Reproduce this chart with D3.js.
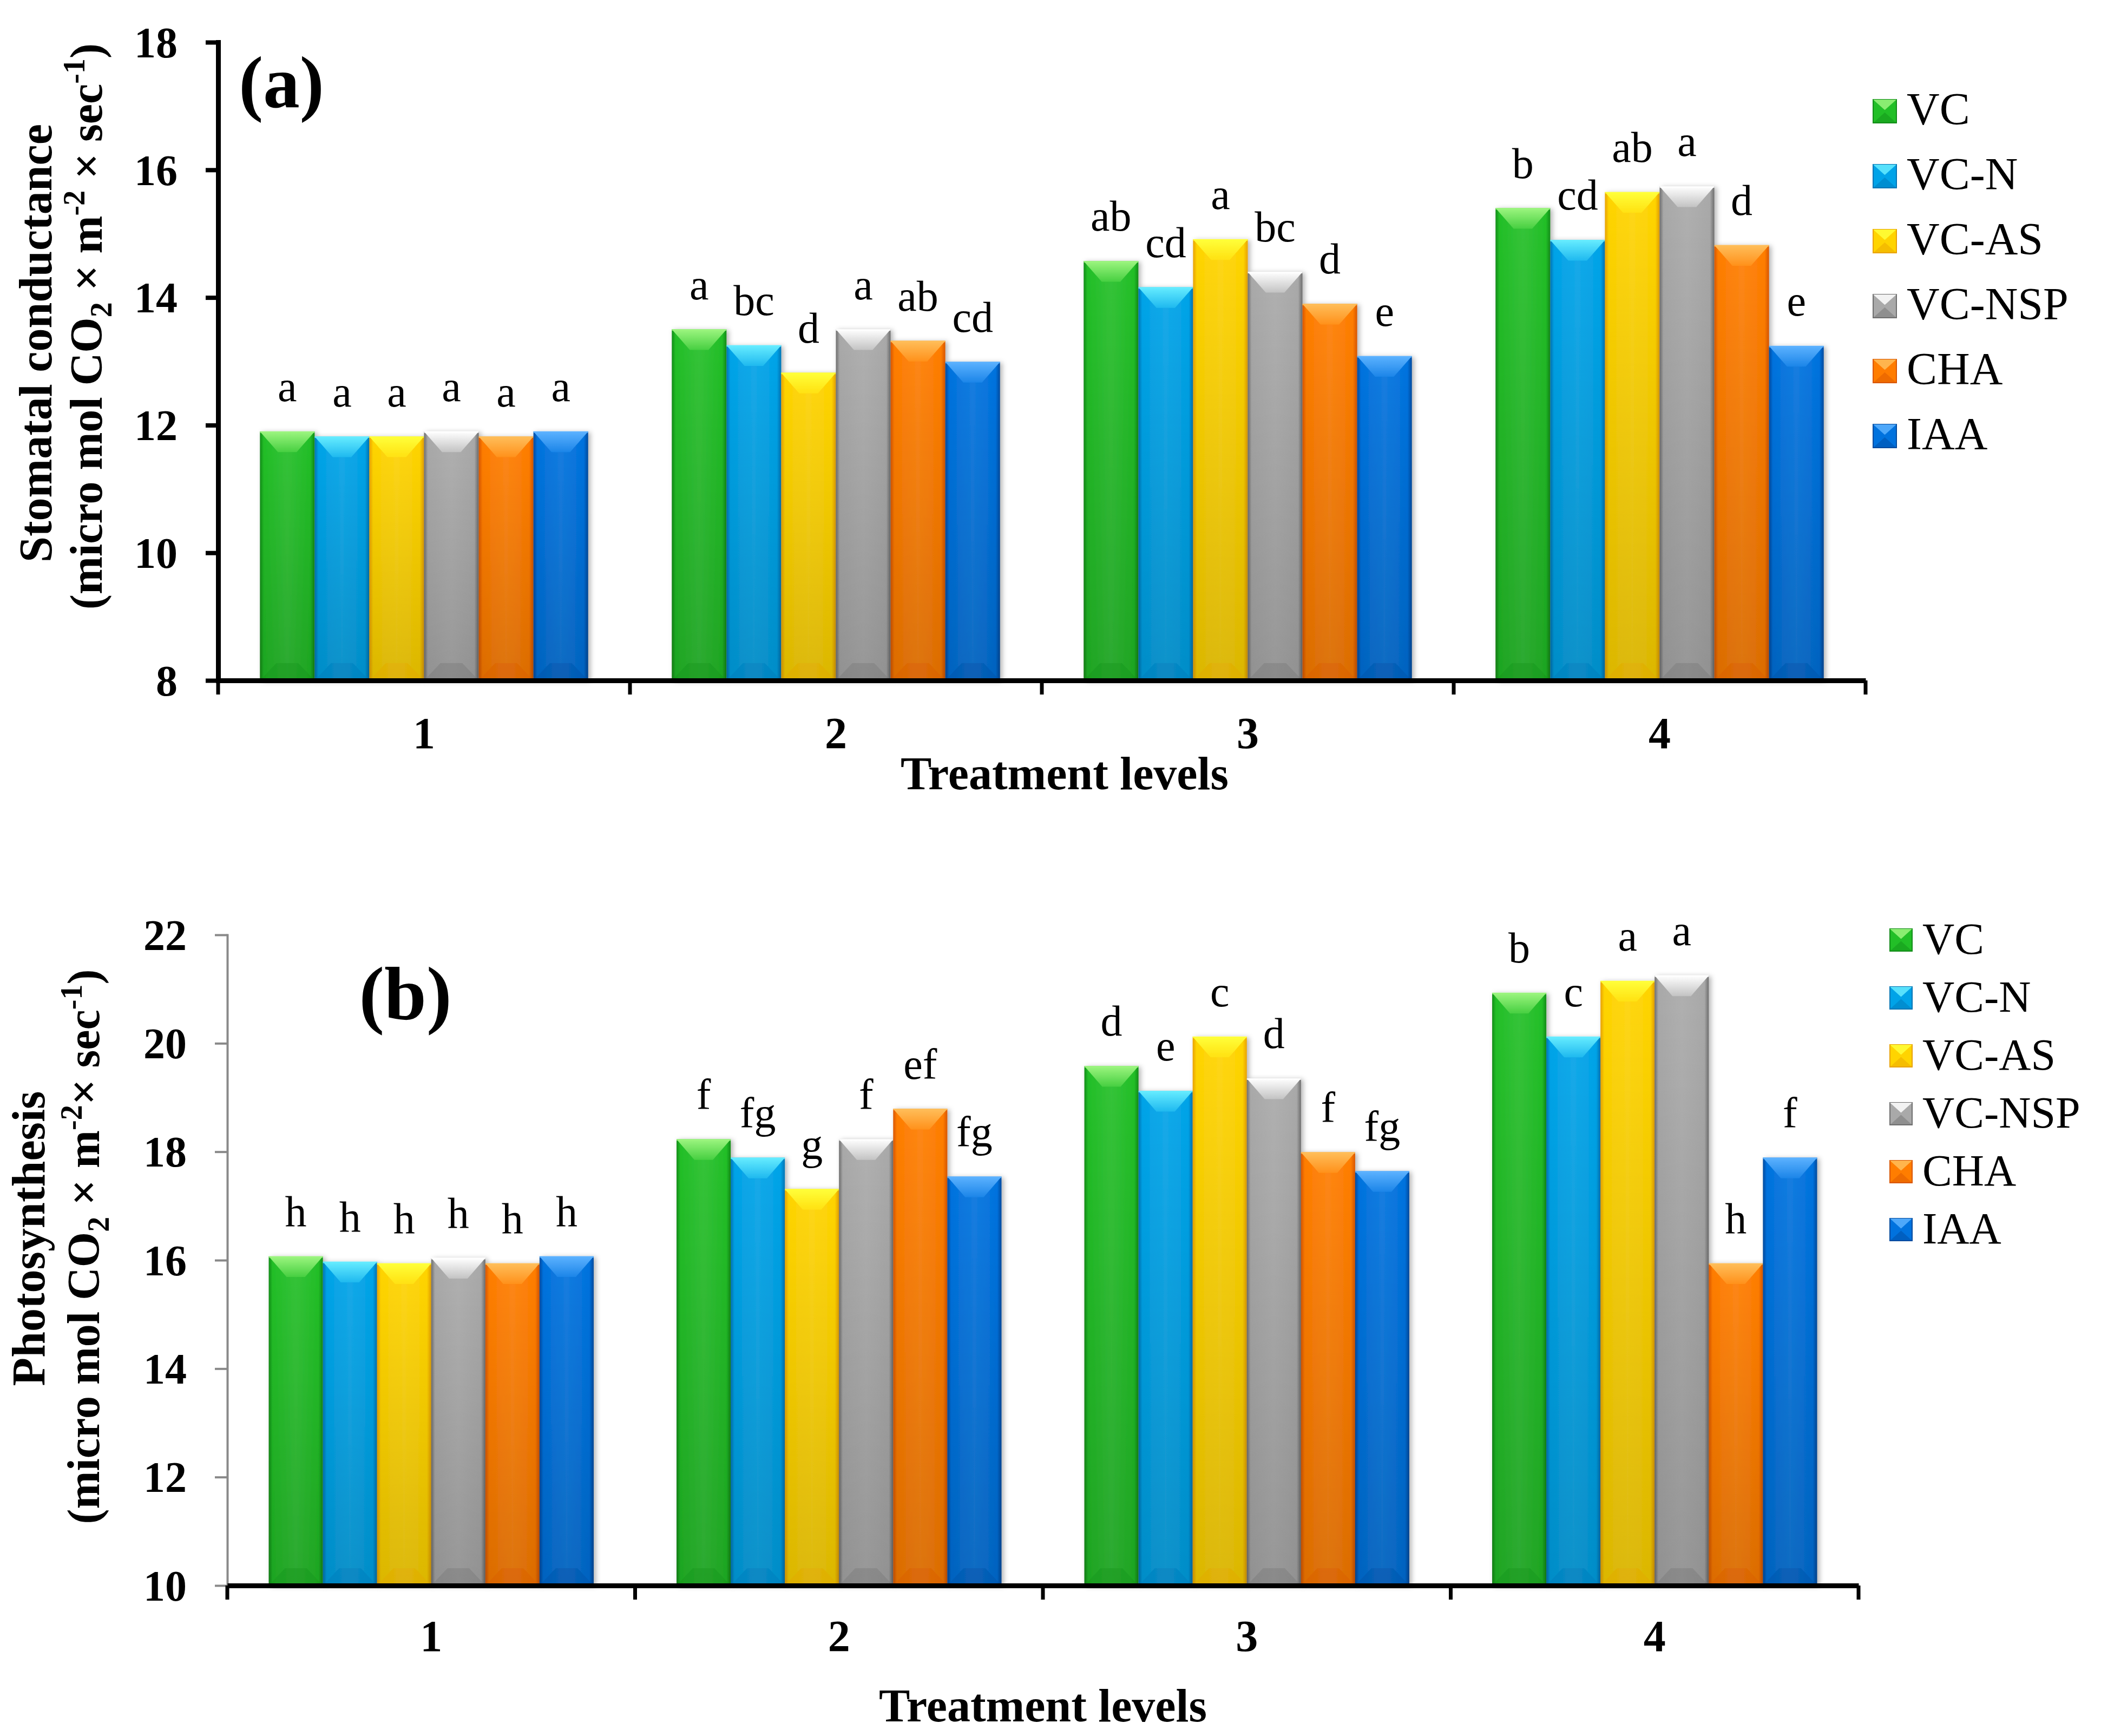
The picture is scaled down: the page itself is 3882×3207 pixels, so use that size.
<!DOCTYPE html>
<html><head><meta charset="utf-8">
<script src="https://cdn.jsdelivr.net/npm/d3@7"></script>
<style>html,body{margin:0;padding:0;background:#fff}svg{display:block}</style>
</head><body>
<svg id="chart" width="3882" height="3207"></svg>
<script>
// ---------- data ----------
const categories = ["1", "2", "3", "4"];
const seriesNames = ["VC", "VC-N", "VC-AS", "VC-NSP", "CHA", "IAA"];

// (a) Stomatal conductance
const stomatalVC    = [11.90, 13.50, 14.57, 15.40];
const stomatalVCN   = [11.82, 13.25, 14.16, 14.90];
const stomatalVCAS  = [11.82, 12.82, 14.91, 15.65];
const stomatalVCNSP = [11.90, 13.50, 14.40, 15.74];
const stomatalCHA   = [11.82, 13.32, 13.90, 14.82];
const stomatalIAA   = [11.90, 12.99, 13.08, 13.24];
const stomatalLettersVC    = ["a", "a", "ab", "b"];
const stomatalLettersVCN   = ["a", "bc", "cd", "cd"];
const stomatalLettersVCAS  = ["a", "d", "a", "ab"];
const stomatalLettersVCNSP = ["a", "a", "bc", "a"];
const stomatalLettersCHA   = ["a", "ab", "d", "d"];
const stomatalLettersIAA   = ["a", "cd", "e", "e"];
const stomatalTicks = [8, 10, 12, 14, 16, 18];

// (b) Photosynthesis
const photoVC    = [16.07, 18.23, 19.58, 20.93];
const photoVCN   = [15.97, 17.89, 19.12, 20.12];
const photoVCAS  = [15.94, 17.31, 20.12, 21.15];
const photoVCNSP = [16.04, 18.23, 19.35, 21.25];
const photoCHA   = [15.94, 18.79, 17.99, 15.94];
const photoIAA   = [16.07, 17.54, 17.64, 17.89];
const photoLettersVC    = ["h", "f", "d", "b"];
const photoLettersVCN   = ["h", "fg", "e", "c"];
const photoLettersVCAS  = ["h", "g", "c", "a"];
const photoLettersVCNSP = ["h", "f", "d", "a"];
const photoLettersCHA   = ["h", "ef", "f", "h"];
const photoLettersIAA   = ["h", "fg", "fg", "f"];
const photoTicks = [10, 12, 14, 16, 18, 20, 22];

// ---------- styles ----------
const baseColors  = ["#22bf27", "#00a3e8", "#ffd400", "#a9a9a9", "#ff7d00", "#0072de"];
const darkColors  = ["#128d18", "#0075b5", "#e9a200", "#6e6e6e", "#d95600", "#004a9e"];
const lightColors = ["#9cf57f", "#66ecff", "#ffff3a", "#ffffff", "#ffbe5a", "#5cb2ff"];
const FONT = "'Liberation Serif','Times New Roman',Times,serif";

const svg = d3.select("#chart");
svg.append("rect").attr("width", 3882).attr("height", 3207).attr("fill", "#fff");
const defs = svg.append("defs");
const flt = defs.append("filter").attr("id", "shadow")
  .attr("x", "-30%").attr("y", "-10%").attr("width", "160%").attr("height", "120%");
flt.append("feDropShadow").attr("dx", 4).attr("dy", 2).attr("stdDeviation", 5)
  .attr("flood-color", "#000").attr("flood-opacity", 0.3);

baseColors.forEach((c, i) => {
  const body = defs.append("linearGradient").attr("id", "body" + i)
    .attr("x1", 0).attr("x2", 1).attr("y1", 0).attr("y2", 0);
  [[0, darkColors[i]], [0.07, c], [0.5, d3.interpolateRgb(c, "#fff")(0.08)], [0.92, c], [1, darkColors[i]]]
    .forEach(([o, col]) => body.append("stop").attr("offset", o).attr("stop-color", col));
  const top = defs.append("linearGradient").attr("id", "top" + i)
    .attr("x1", 0).attr("x2", 0).attr("y1", 0).attr("y2", 1);
  top.append("stop").attr("offset", 0).attr("stop-color", lightColors[i]);
  top.append("stop").attr("offset", 1).attr("stop-color", d3.interpolateRgb(lightColors[i], c)(0.7));
});
const shade = defs.append("linearGradient").attr("id", "shade")
  .attr("x1", 0).attr("x2", 0).attr("y1", 0).attr("y2", 1);
shade.append("stop").attr("offset", 0).attr("stop-color", "#000").attr("stop-opacity", 0);
shade.append("stop").attr("offset", 1).attr("stop-color", "#000").attr("stop-opacity", 0.14);

function drawPanel(p) {
  const x0 = d3.scaleBand().domain(categories).range(p.xRange).padding(0);
  const x1 = d3.scaleBand().domain(seriesNames).range([0, x0.bandwidth()])
    .paddingInner(0).paddingOuter(0.765);
  const y = d3.scaleLinear().domain(p.yDomain).range(p.yRange);
  const g = svg.append("g");
  const base = y(p.yDomain[0]);

  // bars
  seriesNames.forEach((s, si) => {
    p.values[si].forEach((v, ci) => {
      const bx = x0(categories[ci]) + x1(s), bw = x1.bandwidth();
      const by = y(v), bh = base - by;
      const bar = g.append("g").attr("filter", "url(#shadow)");
      bar.append("rect").attr("x", bx).attr("y", by).attr("width", bw).attr("height", bh)
        .attr("fill", `url(#body${si})`);
      bar.append("rect").attr("x", bx).attr("y", by).attr("width", bw).attr("height", bh)
        .attr("fill", "url(#shade)");
      const bev = Math.min(38, bh / 2);
      bar.append("polygon")
        .attr("points", [[bx, by], [bx + bw, by], [bx + bw * 0.67, by + bev], [bx + bw * 0.33, by + bev]].join(" "))
        .attr("fill", `url(#top${si})`);
      bar.append("line").attr("x1", bx).attr("x2", bx + bw).attr("y1", by + 1).attr("y2", by + 1)
        .attr("stroke", lightColors[si]).attr("stroke-width", 3).attr("opacity", 0.8);
      bar.append("polygon")
        .attr("points", [[bx, base], [bx + bw, base], [bx + bw * 0.7, base - 32], [bx + bw * 0.3, base - 32]].join(" "))
        .attr("fill", darkColors[si]).attr("opacity", 0.3);
    });
  });
  // letters
  seriesNames.forEach((s, si) => {
    p.values[si].forEach((v, ci) => {
      g.append("text")
        .attr("x", x0(categories[ci]) + x1(s) + x1.bandwidth() / 2)
        .attr("y", y(v) - 56)
        .attr("text-anchor", "middle")
        .attr("font-family", FONT).attr("font-size", 80).attr("fill", "#000")
        .text(p.letters[si][ci]);
    });
  });

  // y axis
  const ya = g.append("g").attr("transform", `translate(${p.xRange[0]},0)`)
    .call(d3.axisLeft(y).tickValues(p.ticks).tickSize(23).tickSizeOuter(0).tickPadding(52)
      .tickFormat(d3.format("d")));
  ya.select(".domain").attr("stroke", p.yColor).attr("stroke-width", p.yWidth).attr("stroke-linecap", "square");
  ya.selectAll(".tick line").attr("stroke", p.yColor).attr("stroke-width", p.yTickWidth);
  ya.selectAll(".tick text").attr("font-family", FONT).attr("font-weight", "bold")
    .attr("font-size", 80).attr("fill", "#000").attr("dy", "0.34em");

  // x axis
  const xa = g.append("g").attr("transform", `translate(0,${base})`)
    .call(d3.axisBottom(x0).tickSize(0).tickSizeOuter(0));
  xa.select(".domain").attr("stroke", "#000").attr("stroke-width", 9);
  xa.selectAll(".tick text").attr("font-family", FONT).attr("font-weight", "bold")
    .attr("font-size", 82).attr("fill", "#000").attr("y", p.xLabelOff).attr("dy", 0);
  const bounds = categories.map(c => x0(c)).concat([x0.range()[1]]);
  xa.selectAll(".bound").data(bounds).enter().append("line")
    .attr("x1", d => d).attr("x2", d => d).attr("y1", 0).attr("y2", 26)
    .attr("stroke", "#000").attr("stroke-width", 7);

  // x title
  g.append("text").attr("x", p.xTitle[0]).attr("y", p.xTitle[1])
    .attr("text-anchor", "middle").attr("font-family", FONT).attr("font-weight", "bold")
    .attr("font-size", 86).text("Treatment levels");

  // panel tag
  g.append("text").attr("x", p.tag[0]).attr("y", p.tag[1]).attr("text-anchor", "middle")
    .attr("font-family", FONT).attr("font-weight", "bold").attr("font-size", p.tag[2]).text(p.tagText);

  // y title
  g.append("text").attr("transform", `translate(${p.yTitle1[0]},${p.yTitle1[1]}) rotate(-90)`)
    .attr("text-anchor", "middle").attr("font-family", FONT).attr("font-weight", "bold")
    .attr("font-size", 86).text(p.yTitleText);
  const t2 = g.append("text").attr("transform", `translate(${p.yTitle2[0]},${p.yTitle2[1]}) rotate(-90)`)
    .attr("text-anchor", "middle").attr("font-family", FONT).attr("font-weight", "bold")
    .attr("font-size", 84);
  t2.append("tspan").text("(micro mol CO");
  t2.append("tspan").attr("font-size", 56).attr("dy", 18).text("2");
  t2.append("tspan").attr("dy", -18).text(p.sep1);
  t2.append("tspan").attr("font-size", 56).attr("dy", -32).text("-2");
  t2.append("tspan").attr("dy", 32).text(p.sep2);
  t2.append("tspan").attr("font-size", 56).attr("dy", -32).text("-1");
  t2.append("tspan").attr("dy", 32).text(")");

  // legend
  const L = p.legend;
  seriesNames.forEach((s, si) => {
    const yb = L.y0 + si * L.step;
    const sx = L.x, sy = yb - 46, sz = L.size;
    const lg = g.append("g");
    lg.append("rect").attr("x", sx).attr("y", sy).attr("width", sz).attr("height", sz)
      .attr("fill", baseColors[si]).attr("stroke", darkColors[si]).attr("stroke-width", 2);
    lg.append("polygon").attr("points", [[sx, sy], [sx + sz, sy], [sx + sz / 2, sy + sz * 0.45]].join(" "))
      .attr("fill", lightColors[si]).attr("opacity", 0.85);
    lg.append("polygon").attr("points", [[sx, sy + sz], [sx + sz, sy + sz], [sx + sz / 2, sy + sz * 0.55]].join(" "))
      .attr("fill", darkColors[si]).attr("opacity", 0.45);
    lg.append("text").attr("x", L.textX).attr("y", yb).attr("font-family", FONT)
      .attr("font-size", L.font).attr("fill", "#000").text(s);
  });
}

drawPanel({
  values: [stomatalVC, stomatalVCN, stomatalVCAS, stomatalVCNSP, stomatalCHA, stomatalIAA],
  letters: [stomatalLettersVC, stomatalLettersVCN, stomatalLettersVCAS, stomatalLettersVCNSP, stomatalLettersCHA, stomatalLettersIAA],
  ticks: stomatalTicks,
  yDomain: [8, 18], yRange: [1257, 78], xRange: [403, 3447],
  yColor: "#000", yWidth: 9, yTickWidth: 8,
  xLabelOff: 125, xTitle: [1967, 1458],
  tag: [520, 198, 135], tagText: "(a)",
  yTitleText: "Stomatal conductance", yTitle1: [95, 634], yTitle2: [188, 603],
  sep1: " \u00d7 m", sep2: " \u00d7 sec",
  legend: { x: 3461, y0: 230, step: 120, size: 43, textX: 3523, font: 84 }
});

drawPanel({
  values: [photoVC, photoVCN, photoVCAS, photoVCNSP, photoCHA, photoIAA],
  letters: [photoLettersVC, photoLettersVCN, photoLettersVCAS, photoLettersVCNSP, photoLettersCHA, photoLettersIAA],
  ticks: photoTicks,
  yDomain: [10, 22], yRange: [2929, 1727], xRange: [420, 3434],
  yColor: "#898989", yWidth: 4, yTickWidth: 4,
  xLabelOff: 121, xTitle: [1927, 3180],
  tag: [749, 1883, 140], tagText: "(b)",
  yTitleText: "Photosynthesis", yTitle1: [82, 2288], yTitle2: [183, 2303],
  sep1: " \u00d7 m", sep2: "\u00d7 sec",
  legend: { x: 3492, y0: 1762, step: 107, size: 41, textX: 3552, font: 82 }
});
</script>
</body></html>
